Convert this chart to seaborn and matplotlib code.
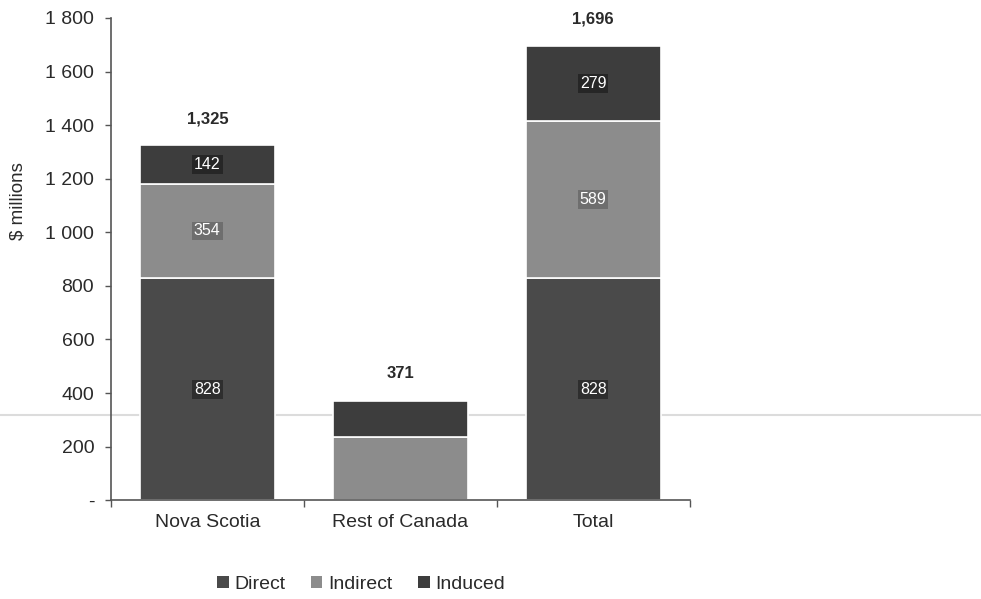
import matplotlib
matplotlib.use("Agg")
import matplotlib.pyplot as plt
from matplotlib.lines import Line2D
from matplotlib.patches import Patch
import numpy as np
import pandas as pd
import seaborn as sns

# Economic impact by region, $ millions
categories = ["Nova Scotia", "Rest of Canada", "Total"]
direct = [828, 0, 828]
indirect = [354, 235, 589]
induced = [142, 136, 279]
totals = [1325, 371, 1696]

# Segment labels shown inside the bars (None = not labelled)
direct_labels = [828, None, 828]
indirect_labels = [354, None, 589]
induced_labels = [142, None, 279]

yticks = [0, 200, 400, 600, 800, 1000, 1200, 1400, 1600, 1800]
ytick_labels = ["-", "200", "400", "600", "800", "1 000", "1 200", "1 400", "1 600", "1 800"]

series_names = ["Direct", "Indirect", "Induced"]
series_colors = ["#4a4a4a", "#8c8c8c", "#3d3d3d"]
label_box_colors = ["#2e2e2e", "#6e6e6e", "#262626"]

sns.set_theme(style="white")
plt.rcParams["font.family"] = ["Liberation Sans", "DejaVu Sans"]

fig = plt.figure(figsize=(9.81, 5.99), dpi=100)

# Faint horizontal rule running across the page, behind the chart
fig.add_artist(Line2D([0, 1], [1 - 415 / 599, 1 - 415 / 599],
                      transform=fig.transFigure, color="#dcdcdc", linewidth=1.5,
                      zorder=-1))

ax = fig.add_axes([0.113, 0.165, 0.590, 0.805])
ax.patch.set_visible(False)

df = pd.DataFrame({
    "region": categories,
    "Direct": direct,
    "Indirect": indirect,
    "Induced": induced,
})

bottom = np.zeros(len(categories))
layers = [direct, indirect, induced]
label_sets = [direct_labels, indirect_labels, induced_labels]
for name, color, box_col, values, labels in zip(series_names, series_colors,
                                               label_box_colors, layers, label_sets):
    sns.barplot(data=df, x="region", y=name, order=categories, color=color,
                bottom=bottom.copy(), width=0.70, edgecolor="white",
                linewidth=1.2, saturation=1, ax=ax, errorbar=None)
    for i, (v, lab) in enumerate(zip(values, labels)):
        if lab is None or v == 0:
            continue
        ax.text(i, bottom[i] + v / 2, f"{lab}", ha="center", va="center",
                color="white", fontsize=11.5,
                bbox=dict(boxstyle="square,pad=0.12", facecolor=box_col,
                          edgecolor="none"))
    bottom += np.array(values, dtype=float)

# Totals above each stack
for i, t in enumerate(totals):
    ax.annotate(f"{t:,}", xy=(i, bottom[i]), xytext=(0, 14),
                textcoords="offset points", ha="center", va="bottom",
                fontsize=12, fontweight="bold", color="#2a2a2a")

ax.set_ylim(0, 1800)
ax.set_xlim(-0.5, 2.5)
ax.set_yticks(yticks)
ax.set_yticklabels(ytick_labels)
ax.set_xlabel("")
ax.set_ylabel("$ millions", fontsize=13.5, color="#2a2a2a")
ax.yaxis.set_label_coords(-0.145, 0.62)

ax.tick_params(axis="y", labelsize=14, colors="#2a2a2a", length=4, width=1,
               direction="out", left=True, pad=8)
ax.tick_params(axis="x", labelsize=14, colors="#2a2a2a", pad=10, length=0)
# Category separators on the x axis
ax.set_xticks([-0.5, 0.5, 1.5, 2.5], minor=True)
ax.tick_params(axis="x", which="minor", length=5, width=1, color="#555555",
               bottom=True)
ax.tick_params(axis="y", color="#555555")

for side in ["top", "right"]:
    ax.spines[side].set_visible(False)
for side in ["left", "bottom"]:
    ax.spines[side].set_color("#555555")
    ax.spines[side].set_linewidth(1.2)

handles = [Patch(facecolor=c, edgecolor="none") for c in series_colors]
fig.legend(handles, series_names, loc="center", bbox_to_anchor=(0.368, 0.025),
           ncol=3, frameon=False, fontsize=14, handlelength=0.6,
           handleheight=0.6, handletextpad=0.3, columnspacing=1.3,
           labelcolor="#2a2a2a")

fig.savefig("out.png", dpi=100, facecolor="white")
